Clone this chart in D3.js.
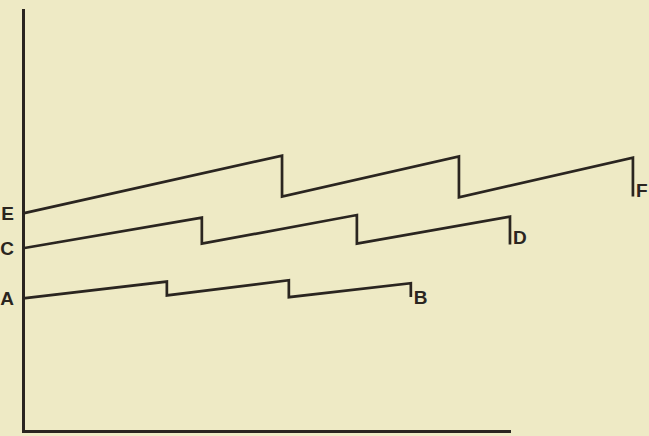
<!DOCTYPE html>
<html>
<head>
<meta charset="utf-8">
<script src="https://cdn.jsdelivr.net/npm/d3@7"></script>
<style>
	html, body { margin: 0; padding: 0; background: #eeeac5; }
	svg { display: block; }
	.lbl { font-family: "Liberation Sans Narrow", "Liberation Sans", sans-serif; font-weight: bold; font-size: 19px; fill: #2a2520; }
</style>
</head>
<body>
<div id="chart"></div>
<script>
// x positions of the points (time units), y values (level units)
var startLabels = ["A", "C", "E"];
var endLabels = ["B", "D", "F"];

var xA = [0, 29.6, 29.6, 54.7, 54.7, 79.8, 79.8];
var yA = [31.5, 35.5, 32.2, 35.8, 31.8, 35.1, 31.8];

var xC = [0, 36.8, 36.8, 68.7, 68.7, 100.2, 100.2];
var yC = [43.4, 50.7, 44.5, 51.3, 44.5, 50.9, 44.3];

var xE = [0, 53.3, 53.3, 89.7, 89.7, 125.5, 125.5];
var yE = [51.7, 65.4, 55.7, 65.2, 55.5, 64.9, 55.7];

(function () {
	var svgwidth = 649;
	var svgheight = 436;

	var svg = d3.select("#chart")
		.append("svg")
		.attr("width", svgwidth)
		.attr("height", svgheight);

	var xScale = d3.scaleLinear().domain([0, 100]).range([23, 509]);
	var yScale = d3.scaleLinear().domain([0, 100]).range([431, 10]);

	var ink = "#2a2520";

	// axes: plain lines, no ticks
	svg.append("g")
		.attr("transform", "translate(" + xScale(0) + ",0)")
		.call(d3.axisLeft(yScale).tickValues([]).tickSizeOuter(0));
	svg.append("g")
		.attr("transform", "translate(0," + yScale(0) + ")")
		.call(d3.axisBottom(xScale).tickValues([]).tickSizeOuter(0));
	svg.selectAll(".domain")
		.attr("stroke", ink)
		.attr("stroke-width", 3)
		.attr("stroke-linecap", "square");

	var data = [
		d3.zip(xA, yA),
		d3.zip(xC, yC),
		d3.zip(xE, yE)
	];

	var line = d3.line()
		.x(function (d) { return xScale(d[0]); })
		.y(function (d) { return yScale(d[1]); });

	svg.selectAll("path.series")
		.data(data)
		.enter()
		.append("path")
		.attr("class", "series")
		.attr("d", line)
		.attr("fill", "none")
		.attr("stroke", ink)
		.attr("stroke-width", 2.7)
		.attr("stroke-linejoin", "miter");

	svg.selectAll("text.start")
		.data(data)
		.enter()
		.append("text")
		.attr("class", "lbl start")
		.attr("x", 14)
		.attr("y", function (d) { return yScale(d[0][1]); })
		.attr("dy", "0.36em")
		.attr("text-anchor", "end")
		.text(function (d, i) { return startLabels[i]; });

	// end labels sit just right of the final drop
	var endShift = [0, -7, -6];
	svg.selectAll("text.end")
		.data(data)
		.enter()
		.append("text")
		.attr("class", "lbl end")
		.attr("x", function (d) { return xScale(d[d.length - 1][0]) + 3; })
		.attr("y", function (d, i) { return yScale(d[d.length - 1][1]) + endShift[i]; })
		.attr("dy", "0.36em")
		.text(function (d, i) { return endLabels[i]; });
})();
</script>
</body>
</html>
